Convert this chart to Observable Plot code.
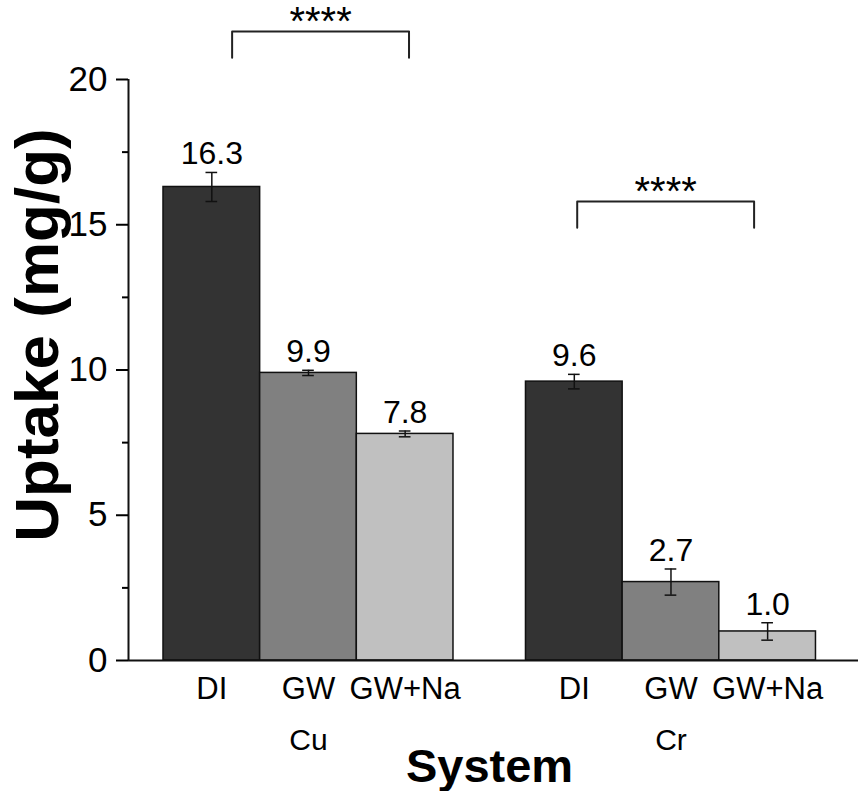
<!DOCTYPE html>
<html><head><meta charset="utf-8">
<script src="https://cdn.jsdelivr.net/npm/d3@7"></script>
<script src="https://cdn.jsdelivr.net/npm/@observablehq/plot@0.6"></script>
<style>
html,body{margin:0;padding:0;background:#fff;}
#chart svg{display:block;}
</style></head><body><div id="chart"></div>
<script>
// ---- data ----
const metals = ["Cu", "Cu", "Cu", "Cr", "Cr", "Cr"];
const conditions = ["DI", "GW", "GW+Na", "DI", "GW", "GW+Na"];
const uptake = [16.3, 9.9, 7.8, 9.6, 2.7, 1.0];
const errors = [0.5, 0.09, 0.1, 0.25, 0.45, 0.3];
const metalOrder = ["Cu", "Cr"];
const conditionOrder = ["DI", "GW", "GW+Na"];
const sigLabels = ["****", "****"];
const sigFrom = [0.71, 4.28];   // bracket ends, in bar-slot units
const sigTo = [2.54, 6.11];
const sigTop = [21.65, 15.8];   // bracket heights, in mg/g
const sigLeg = [20.75, 14.9];
const yTicks = [0, 5, 10, 15, 20];
const yMinorTicks = [2.5, 7.5, 12.5, 17.5];
const xLabel = "System";
const yLabel = "Uptake (mg/g)";

// ---- layout / style ----
const conditionFills = ["#333333", "#808080", "#c0c0c0"];
const groupGap = 0.75;
const xDomain = [-0.362, 7.19];

const data = uptake.map((v, i) => {
  const g = metalOrder.indexOf(metals[i]);
  const c = conditionOrder.indexOf(conditions[i]);
  const x1 = g * (conditionOrder.length + groupGap) + c;
  return {metal: metals[i], condition: conditions[i], value: v, err: errors[i],
          x1, x2: x1 + 1, xc: x1 + 0.5, fill: conditionFills[c]};
});
const groups = metalOrder.map(m => ({metal: m, xc: d3.mean(data.filter(d => d.metal === m), d => d.xc)}));
const brackets = sigLabels.map((s, i) => ({label: s, xc: (sigFrom[i] + sigTo[i]) / 2, top: sigTop[i]}));
const bracketPts = sigLabels.flatMap((s, i) => [
  {id: i, x: sigFrom[i], y: sigLeg[i]},
  {id: i, x: sigFrom[i], y: sigTop[i]},
  {id: i, x: sigTo[i], y: sigTop[i]},
  {id: i, x: sigTo[i], y: sigLeg[i]}
]);

const ink = "#111";
const plot = Plot.plot({
  width: 858,
  height: 791,
  marginLeft: 128,
  marginRight: 0,
  marginTop: 79,
  marginBottom: 131,
  style: {fontFamily: "'Liberation Sans', Arial, sans-serif", background: "white", color: "black", overflow: "visible"},
  x: {type: "linear", domain: xDomain, axis: null},
  y: {domain: [yTicks[0], yTicks[yTicks.length - 1]]},
  marks: [
    Plot.rectY(data, {x1: "x1", x2: "x2", y: "value", fill: "fill", stroke: ink, strokeWidth: 1.5}),
    Plot.ruleX(data, {x: "xc", y1: d => d.value - d.err, y2: d => d.value + d.err, stroke: ink, strokeWidth: 1.5}),
    Plot.ruleY(data, {y: d => d.value + d.err, x1: "x1", x2: "x2", insetLeft: 42.5, insetRight: 42.5, stroke: ink, strokeWidth: 1.5}),
    Plot.ruleY(data, {y: d => d.value - d.err, x1: "x1", x2: "x2", insetLeft: 42.5, insetRight: 42.5, stroke: ink, strokeWidth: 1.5}),
    Plot.text(data, {x: "xc", y: d => d.value + d.err, text: d => d.value.toFixed(1), lineAnchor: "bottom", dy: -8, fontSize: 32}),
    // axes lines
    Plot.ruleX([xDomain[0]], {y1: yTicks[0], y2: yTicks[yTicks.length - 1], stroke: ink, strokeWidth: 2}),
    Plot.ruleY([0], {stroke: ink, strokeWidth: 2}),
    Plot.axisY({ticks: yTicks, tickSize: 12, tickPadding: 9, fontSize: 35, strokeWidth: 2, label: null, tickFormat: d => String(d)}),
    Plot.axisY({ticks: yMinorTicks, tickSize: 6, strokeWidth: 2, label: null, tickFormat: () => ""}),
    // category labels
    Plot.text(data, {x: "xc", text: "condition", frameAnchor: "bottom", lineAnchor: "bottom", dy: 38, fontSize: 31}),
    Plot.text(groups, {x: "xc", text: "metal", frameAnchor: "bottom", lineAnchor: "bottom", dy: 89, fontSize: 30}),
    Plot.text([xLabel], {text: d => d, frameAnchor: "bottom", textAnchor: "middle", lineAnchor: "bottom", dy: 121, dx: -4, fontSize: 47, fontWeight: "bold"}),
    Plot.text([yLabel], {text: d => d, frameAnchor: "left", textAnchor: "middle", rotate: -90, lineAnchor: "bottom", dx: -71, dy: -35, fontSize: 62, fontWeight: "bold"}),
    // significance brackets
    Plot.line(bracketPts, {x: "x", y: "y", z: "id", stroke: "#222", strokeWidth: 2}),
    Plot.text(brackets, {x: "xc", y: "top", text: "label", lineAnchor: "middle", dy: -9, fontSize: 40})
  ]
});
document.getElementById("chart").append(plot);
</script>
</body></html>
